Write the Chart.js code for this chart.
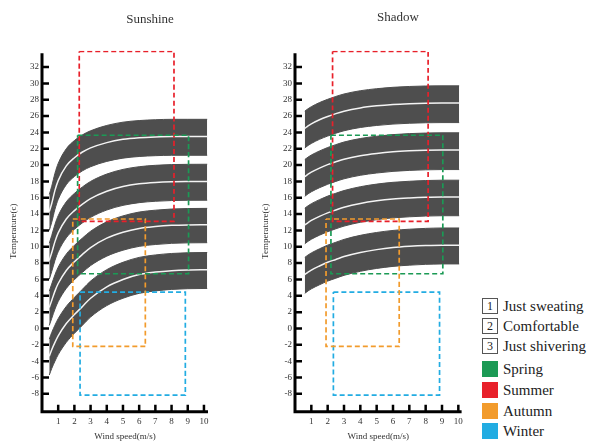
<!DOCTYPE html>
<html>
<head>
<meta charset="utf-8">
<script src="https://cdn.jsdelivr.net/npm/chart.js@4.4.1/dist/chart.umd.min.js"></script>
<style>
  body { margin: 0; background: #fff; width: 593px; height: 443px; overflow: hidden; position: relative; font-family: "Liberation Serif", serif; }
  canvas { position: absolute; top: 0; }
  #sunCanvas { left: 0; }
  #shadeCanvas { left: 250px; }
  .panel-title { position: absolute; font-size: 13px; color: #333; transform: translate(-50%, -50%); white-space: nowrap; }
  .legend { position: absolute; left: 482px; top: 0; font-size: 15px; color: #222; }
  .legend-row { position: absolute; left: 0; height: 16px; display: flex; align-items: center; white-space: nowrap; }
  .legend-key { width: 16px; height: 16px; margin-right: 5px; box-sizing: border-box; font-size: 12px; text-align: center; line-height: 14px; flex: none; }
  .legend-key.num { border: 1px solid #555; background: #fff; }
</style>
</head>
<body>
<canvas id="sunCanvas" width="240" height="443"></canvas>
<canvas id="shadeCanvas" width="230" height="443"></canvas>
<div class="panel-title" style="left:150px; top:19px;">Sunshine</div>
<div class="panel-title" style="left:398px; top:17px;">Shadow</div>
<div class="legend" id="legend"></div>
<script>
// axis ticks
const yTicks = [32, 30, 28, 26, 24, 22, 20, 18, 16, 14, 12, 10, 8, 6, 4, 2, 0, -2, -4, -6, -8];
const xTicks = [1, 2, 3, 4, 5, 6, 7, 8, 9, 10];

// legend
const comfortLevels = ['Just sweating', 'Comfortable', 'Just shivering'];
const seasons = ['Spring', 'Summer', 'Autumn', 'Winter'];
const seasonColors = ['#1b9a55', '#e8202a', '#f29b2c', '#22ace2'];

// season windows (wind speed m/s, temperature c)
const boxLeft = [2.2, 2.3, 1.9, 2.35];
const boxRight = [9.05, 8.15, 6.38, 8.85];
const boxTop = [23.65, 33.9, 13.4, 4.45];
const boxBottom = [6.7, 13.1, -2.2, -8.15];

// Sunshine bands
const sunWind = [0.45, 0.6, 0.8, 1, 1.5, 2, 2.5, 3, 4, 5, 6, 7, 8, 9, 10.2];
const sunBand1Top = [16.4, 17.4, 19.0, 20.2, 22.0, 23.0, 23.7, 24.2, 24.85, 25.25, 25.45, 25.55, 25.6, 25.6, 25.6];
const sunBand1Mid = [14.3, 15.3, 16.9, 18.1, 19.9, 20.9, 21.6, 22.1, 22.75, 23.15, 23.35, 23.45, 23.5, 23.5, 23.5];
const sunBand1Low = [12.0, 13.0, 14.6, 15.8, 17.6, 18.6, 19.3, 19.8, 20.45, 20.85, 21.05, 21.15, 21.2, 21.2, 21.2];
const sunBand2Top = [10.43, 11.37, 12.73, 13.8, 15.5, 16.53, 17.33, 18.0, 18.9, 19.47, 19.8, 19.97, 20.06, 20.09, 20.1];
const sunBand2Mid = [8.33, 9.27, 10.63, 11.7, 13.4, 14.43, 15.23, 15.9, 16.8, 17.37, 17.7, 17.87, 17.96, 17.99, 18.0];
const sunBand2Low = [6.03, 6.97, 8.33, 9.4, 11.1, 12.13, 12.93, 13.6, 14.5, 15.07, 15.4, 15.57, 15.66, 15.69, 15.7];
const sunBand3Top = [4.57, 5.43, 6.57, 7.5, 9.1, 10.17, 11.07, 11.9, 13.05, 13.78, 14.25, 14.48, 14.62, 14.68, 14.7];
const sunBand3Mid = [2.57, 3.43, 4.57, 5.5, 7.1, 8.17, 9.07, 9.9, 11.05, 11.78, 12.25, 12.48, 12.62, 12.68, 12.7];
const sunBand3Low = [0.37, 1.23, 2.37, 3.3, 4.9, 5.97, 6.87, 7.7, 8.85, 9.58, 10.05, 10.28, 10.42, 10.48, 10.5];
const sunBand4Top = [-1.3, -0.5, 0.4, 1.2, 2.7, 3.8, 4.8, 5.8, 7.2, 8.1, 8.7, 9.0, 9.18, 9.27, 9.3];
const sunBand4Mid = [-3.4, -2.6, -1.7, -0.9, 0.6, 1.7, 2.7, 3.7, 5.1, 6.0, 6.6, 6.9, 7.08, 7.17, 7.2];
const sunBand4Low = [-5.7, -4.9, -4.0, -3.2, -1.7, -0.6, 0.4, 1.4, 2.8, 3.7, 4.3, 4.6, 4.78, 4.87, 4.9];

// Shadow bands
const shadeWind = [0.6, 0.8, 1, 1.5, 2, 2.5, 3, 4, 5, 6, 7, 8, 9, 10.05];
const shadeBand1Top = [26.6, 26.9, 27.15, 27.65, 28.05, 28.4, 28.7, 29.1, 29.35, 29.52, 29.62, 29.68, 29.7, 29.7];
const shadeBand1Mid = [24.5, 24.8, 25.05, 25.55, 25.95, 26.3, 26.6, 27.0, 27.25, 27.42, 27.52, 27.58, 27.6, 27.6];
const shadeBand1Low = [22.1, 22.4, 22.65, 23.15, 23.55, 23.9, 24.2, 24.6, 24.85, 25.02, 25.12, 25.18, 25.2, 25.2];
const shadeBand2Top = [20.68, 20.98, 21.23, 21.73, 22.15, 22.5, 22.82, 23.25, 23.53, 23.73, 23.85, 23.92, 23.95, 23.95];
const shadeBand2Mid = [18.58, 18.88, 19.13, 19.63, 20.05, 20.4, 20.72, 21.15, 21.43, 21.63, 21.75, 21.82, 21.85, 21.85];
const shadeBand2Low = [16.18, 16.48, 16.73, 17.23, 17.65, 18.0, 18.32, 18.75, 19.03, 19.23, 19.35, 19.42, 19.45, 19.45];
const shadeBand3Top = [14.72, 15.02, 15.27, 15.77, 16.2, 16.55, 16.88, 17.35, 17.67, 17.89, 18.02, 18.11, 18.15, 18.15];
const shadeBand3Mid = [12.67, 12.97, 13.22, 13.72, 14.15, 14.5, 14.83, 15.3, 15.62, 15.84, 15.97, 16.06, 16.1, 16.1];
const shadeBand3Low = [10.37, 10.67, 10.92, 11.42, 11.85, 12.2, 12.53, 13.0, 13.32, 13.54, 13.67, 13.76, 13.8, 13.8];
const shadeBand4Top = [8.7, 9.0, 9.25, 9.75, 10.2, 10.55, 10.9, 11.4, 11.75, 12.0, 12.15, 12.25, 12.3, 12.3];
const shadeBand4Mid = [6.6, 6.9, 7.15, 7.65, 8.1, 8.45, 8.8, 9.3, 9.65, 9.9, 10.05, 10.15, 10.2, 10.2];
const shadeBand4Low = [4.3, 4.6, 4.85, 5.35, 5.8, 6.15, 6.5, 7.0, 7.35, 7.6, 7.75, 7.85, 7.9, 7.9];

const bandGray = '#4e4e4e';
const serif = '"Liberation Serif", "DejaVu Serif", serif';

function zip(xs, ys) {
    return xs.map((x, i) => ({ x: x, y: ys[i] }));
}

function buildDatasets(wind, bands) {
    const sets = [];
    // dark bands: top fills down to its own lower edge
    bands.forEach(b => {
        sets.push({ data: zip(wind, b[0]), fill: '+1', backgroundColor: bandGray, borderColor: bandGray, borderWidth: 1, order: 2 });
        sets.push({ data: zip(wind, b[2]), fill: false, borderColor: bandGray, borderWidth: 1, order: 2 });
    });
    // white comfort lines
    bands.forEach(b => {
        sets.push({ data: zip(wind, b[1]), fill: false, borderColor: '#f4f4f4', borderWidth: 1.5, order: 1 });
    });
    // dashed season windows
    seasons.forEach((s, i) => {
        const l = boxLeft[i], r = boxRight[i], t = boxTop[i], b = boxBottom[i];
        sets.push({
            data: [{ x: l, y: t }, { x: r, y: t }, { x: r, y: b }, { x: l, y: b }, { x: l, y: t }],
            fill: false, borderColor: seasonColors[i], borderWidth: 1.7, borderDash: [5, 3],
            tension: 0, order: 0
        });
    });
    return sets;
}

// black axes with inward ticks
const axisLines = {
    id: 'axisLines',
    afterDraw(chart) {
        const { ctx, chartArea, scales: { x, y } } = chart;
        const x0 = x.getPixelForValue(0);
        const yb = chartArea.bottom;
        ctx.save();
        ctx.strokeStyle = '#000';
        ctx.lineWidth = 3;
        ctx.beginPath();
        ctx.moveTo(x0, y.getPixelForValue(33.7));
        ctx.lineTo(x0, yb);
        ctx.lineTo(chartArea.right, yb);
        ctx.stroke();
        ctx.lineWidth = 2.5;
        ctx.beginPath();
        xTicks.forEach(v => {
            const px = x.getPixelForValue(v);
            ctx.moveTo(px, yb);
            ctx.lineTo(px, yb - 7);
        });
        yTicks.forEach(v => {
            const py = y.getPixelForValue(v);
            ctx.moveTo(x0, py);
            ctx.lineTo(x0 + 7, py);
        });
        ctx.stroke();
        ctx.restore();
    }
};

function makeChart(id, wind, bands, xMax, yWidth, padRight, yTitlePad) {
    return new Chart(document.getElementById(id), {
        type: 'line',
        data: { datasets: buildDatasets(wind, bands) },
        options: {
            responsive: false,
            animation: false,
            layout: { padding: { top: 50.7, right: padRight, bottom: 0, left: 0 } },
            elements: {
                point: { radius: 0 },
                line: { tension: 0.4, cubicInterpolationMode: 'monotone' }
            },
            plugins: { legend: { display: false }, tooltip: { enabled: false } },
            scales: {
                x: {
                    type: 'linear', min: 0, max: xMax,
                    afterBuildTicks: s => { s.ticks = xTicks.map(v => ({ value: v })); },
                    afterFit: s => { s.height = 31.2; },
                    grid: { display: false, drawTicks: false }, border: { display: false },
                    ticks: { font: { family: serif, size: 9 }, color: '#333', padding: 4, autoSkip: false, maxRotation: 0 },
                    title: { display: true, text: 'Wind speed(m/s)', font: { family: serif, size: 9 }, color: '#333', padding: { top: 0, bottom: 1 } }
                },
                y: {
                    type: 'linear', min: -10.2, max: 34,
                    afterBuildTicks: s => { s.ticks = yTicks.map(v => ({ value: v })); },
                    afterFit: s => { s.width = yWidth; },
                    grid: { display: false, drawTicks: false }, border: { display: false },
                    ticks: { font: { family: serif, size: 9 }, color: '#333', padding: 3, autoSkip: false },
                    title: { display: true, text: 'Temperature(c)', font: { family: serif, size: 9 }, color: '#333', padding: { top: yTitlePad, bottom: 0 } }
                }
            }
        },
        plugins: [axisLines]
    });
}

makeChart('sunCanvas', sunWind, [
    [sunBand1Top, sunBand1Mid, sunBand1Low],
    [sunBand2Top, sunBand2Mid, sunBand2Low],
    [sunBand3Top, sunBand3Mid, sunBand3Low],
    [sunBand4Top, sunBand4Mid, sunBand4Low]
], 10.25, 42, 32, 8.6);

makeChart('shadeCanvas', shadeWind, [
    [shadeBand1Top, shadeBand1Mid, shadeBand1Low],
    [shadeBand2Top, shadeBand2Mid, shadeBand2Low],
    [shadeBand3Top, shadeBand3Mid, shadeBand3Low],
    [shadeBand4Top, shadeBand4Mid, shadeBand4Low]
], 10.2, 45, 18.4, 10.6);

// legend on the right
const legend = document.getElementById('legend');
const rowY = [306, 326, 346, 369, 390, 411, 431];
comfortLevels.forEach((name, i) => {
    legend.innerHTML += `<div class="legend-row" style="top:${rowY[i] - 8}px"><span class="legend-key num">${i + 1}</span>${name}</div>`;
});
seasons.forEach((name, i) => {
    legend.innerHTML += `<div class="legend-row" style="top:${rowY[i + 3] - 8}px"><span class="legend-key" style="background:${seasonColors[i]}"></span>${name}</div>`;
});
</script>
</body>
</html>
